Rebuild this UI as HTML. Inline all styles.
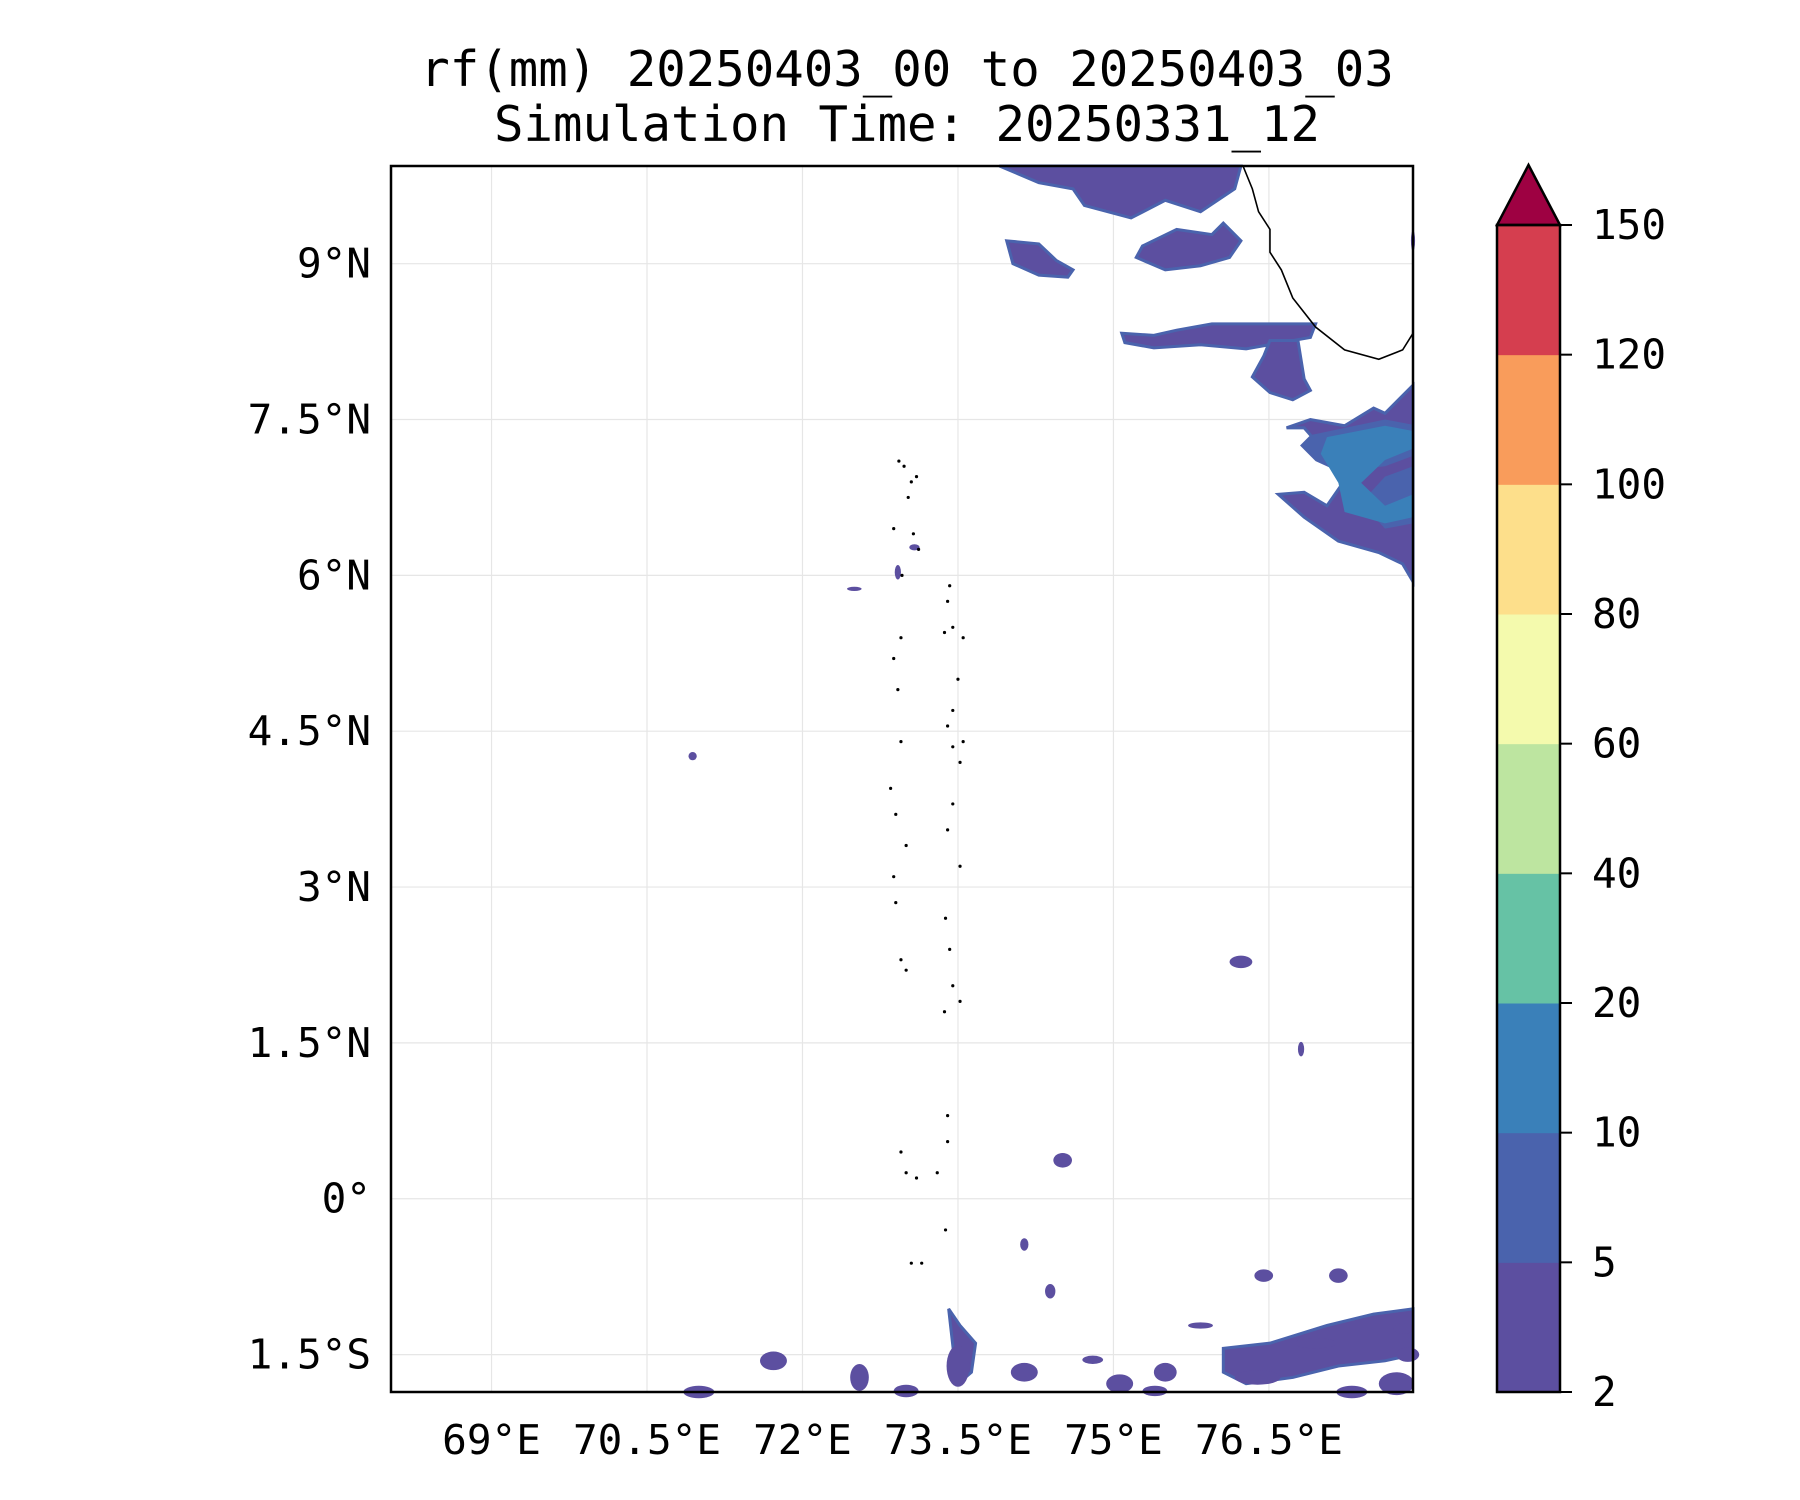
<!DOCTYPE html>
<html><head><meta charset="utf-8"><style>
html,body{margin:0;padding:0;background:#fff;}
svg{display:block;font-family:"DejaVu Sans Mono","Liberation Mono",monospace;}
</style></head><body>
<svg id="chart" width="1800" height="1500" viewBox="0 0 1800 1500" xmlns="http://www.w3.org/2000/svg">
<text x="907" y="86" font-size="49" text-anchor="middle">rf(mm) 20250403_00 to 20250403_03</text>
<text x="907" y="141" font-size="49" text-anchor="middle">Simulation Time: 20250331_12</text>
<g id="grid"></g><g id="rain"></g><g id="coast"></g><g id="axes"></g><g id="cbar"></g>
</svg>
<script>
const lonTicks=[69,70.5,72,73.5,75,76.5];
const lonLabels=["69°E","70.5°E","72°E","73.5°E","75°E","76.5°E"];
const latTicks=[9,7.5,6,4.5,3,1.5,0,-1.5];
const latLabels=["9°N","7.5°N","6°N","4.5°N","3°N","1.5°N","0°","1.5°S"];
const cbLevels=[2,5,10,20,40,60,80,100,120,150];
const cbColors=["#5c4fa0","#4a63ad","#3a80b9","#66c2a5","#bde5a0","#f4faad","#fddf8b","#f99c5b","#d53e4f"];
const cbExtendColor="#9e0142";
const polyLevels=[0,0,0,0,0,0,1,2,0,0];
const polyLons=[
[73.90,76.23,76.17,75.84,75.50,75.17,74.72,74.61,74.28],
[73.97,74.28,74.45,74.61,74.56,74.28,74.03],
[75.28,75.61,75.95,76.06,76.23,76.12,75.84,75.50,75.22],
[75.08,75.39,75.61,75.95,76.95,76.90,76.73,76.28,75.84,75.39,75.11],
[76.51,76.78,76.84,76.90,76.73,76.51,76.34,76.45],
[77.62,78.0,78.0,77.79,77.56,77.17,76.84,76.59,76.84,77.06,77.29,77.06,76.84,76.67,76.90,77.23,77.51],
[76.90,77.62,78.0,78.0,77.62,77.39,77.62,78.0,78.0,77.62,77.17,76.95,76.80],
[77.06,77.62,78.0,78.0,77.62,77.39,77.62,78.0,78.0,77.62,77.23,77.17,77.0],
[73.41,73.52,73.67,73.63,73.50,73.46],
[76.06,76.51,77.06,77.51,78.0,78.0,77.62,77.17,76.73,76.28,76.06]];
const polyLats=[
[10.0,10.0,9.72,9.50,9.61,9.44,9.56,9.72,9.78],
[9.22,9.19,9.03,8.94,8.87,8.89,9.0],
[9.17,9.33,9.28,9.39,9.22,9.06,8.98,8.94,9.06],
[8.33,8.31,8.36,8.42,8.42,8.29,8.26,8.18,8.22,8.19,8.24],
[8.26,8.26,7.89,7.78,7.69,7.76,7.91,8.11],
[7.56,7.83,5.94,6.11,6.22,6.33,6.56,6.78,6.80,6.67,7.0,7.17,7.42,7.42,7.5,7.44,7.61],
[7.35,7.50,7.45,6.50,6.45,6.70,6.95,7.05,7.15,7.05,7.0,7.10,7.25],
[7.33,7.44,7.39,7.22,7.11,6.89,6.67,6.78,6.56,6.50,6.61,6.89,7.17],
[-1.06,-1.22,-1.39,-1.67,-1.78,-1.50],
[-1.44,-1.39,-1.22,-1.11,-1.06,-1.50,-1.56,-1.61,-1.72,-1.78,-1.67]];
const blobLon=[71.72,72.55,73.50,74.14,75.06,75.50,76.39,77.73,77.84,77.17,76.45,76.23,74.51,76.81,70.94,72.50,72.92,73.08,75.84,76.95,74.39,74.14,77.95,71.0,73.0,74.8,75.4,77.3,77.8];
const blobLat=[-1.56,-1.72,-1.61,-1.67,-1.78,-1.67,-1.72,-1.78,-1.50,-0.74,-0.74,2.28,0.37,1.44,4.26,5.87,6.03,6.27,-1.22,-1.39,-0.89,-0.44,9.22,-1.88,-1.85,-1.55,-1.85,-1.90,-1.25];
const blobRx=[.13,.09,.11,.13,.13,.11,.22,.17,.11,.09,.09,.11,.09,.03,.04,.07,.03,.05,.12,.2,.05,.04,.02,.15,.12,.1,.12,.15,.1];
const blobRy=[.09,.13,.2,.09,.09,.09,.07,.11,.07,.07,.06,.06,.07,.07,.04,.02,.07,.03,.03,.05,.07,.06,.1,.06,.06,.04,.05,.06,.05];
const coastLon=[76.24,76.25,76.34,76.40,76.51,76.51,76.62,76.73,76.95,77.23,77.56,77.79,78.0];
const coastLat=[10.0,9.94,9.72,9.50,9.33,9.11,8.94,8.67,8.39,8.17,8.08,8.17,8.33];
const islLon=[72.93,72.98,73.05,73.10,73.02,72.88,73.07,73.12,72.96,73.42,73.40,73.45,73.37,73.55,73.50,73.45,72.95,72.88,72.92,73.40,73.45,73.52,73.55,72.95,72.85,72.90,73.00,73.45,73.40,73.52,72.88,72.90,73.38,73.42,72.95,73.00,73.37,73.52,73.45,73.40,72.95,73.00,73.10,73.30,73.40,73.38,73.15,73.05];
const islLat=[7.10,7.05,6.90,6.95,6.75,6.45,6.40,6.25,6.00,5.90,5.75,5.50,5.45,5.40,5.00,4.70,5.40,5.20,4.90,4.55,4.35,4.20,4.40,4.40,3.95,3.70,3.40,3.80,3.55,3.20,3.10,2.85,2.70,2.40,2.30,2.20,1.80,1.90,2.05,0.80,0.45,0.25,0.20,0.25,0.55,-0.30,-0.62,-0.62];

const NS="http://www.w3.org/2000/svg";
const X0=391,X1=1413,Y0=166,Y1=1392;
const LON0=68.03,LON1=77.89,LAT0=-1.86,LAT1=9.94;
function xS(lon){return Math.min(X1,Math.max(X0,X0+(lon-LON0)/(LON1-LON0)*(X1-X0)));}
function yS(lat){return Math.min(Y1,Math.max(Y0,Y1-(lat-LAT0)/(LAT1-LAT0)*(Y1-Y0)));}
function mk(tag,attrs,parent){const e=document.createElementNS(NS,tag);for(const k in attrs)e.setAttribute(k,attrs[k]);document.getElementById(parent).appendChild(e);return e;}

lonTicks.forEach((v,i)=>{
 const l=mk('line',{x1:xS(v),x2:xS(v),y1:Y0,y2:Y1,stroke:'#e6e6e6','stroke-width':1.2},'grid');
 
 
 const t=mk('text',{x:xS(v),y:Y1+62,'font-size':41,'text-anchor':'middle'},'axes');
 t.textContent=lonLabels[i];
 
 
});
latTicks.forEach((v,i)=>{
 const l=mk('line',{x1:X0,x2:X1,y1:yS(v),y2:yS(v),stroke:'#e6e6e6','stroke-width':1.2},'grid');
 
 
 const t=mk('text',{x:371,y:yS(v)+14,'font-size':41,'text-anchor':'end'},'axes');
 t.textContent=latLabels[i];
 
 
});
polyLons.forEach((lons,i)=>{
 const pts=lons.map((lo,j)=>xS(lo)+','+yS(polyLats[i][j])).join(' ');
 const p=mk('polygon',{points:pts,fill:cbColors[polyLevels[i]],stroke:polyLevels[i]===0?'#4a63ad':'none','stroke-width':polyLevels[i]===0?3:0},'rain');
 
 
});
blobLon.forEach((lo,i)=>{
 const rx=blobRx[i]/(LON1-LON0)*(X1-X0), ry=blobRy[i]/(LAT1-LAT0)*(Y1-Y0);
 const e=mk('ellipse',{cx:xS(lo),cy:yS(blobLat[i]),rx:rx,ry:ry,fill:cbColors[0]},'rain');
 
 
});
const cp=mk('polyline',{points:coastLon.map((lo,j)=>xS(lo)+','+yS(coastLat[j])).join(' '),fill:'none',stroke:'#000','stroke-width':1.6},'coast');


islLon.forEach((lo,i)=>{
 const c=mk('circle',{cx:xS(lo),cy:yS(islLat[i]),r:1.6,fill:'#000'},'coast');
 
 
});
const fr=mk('rect',{x:X0,y:Y0,width:X1-X0,height:Y1-Y0,fill:'none',stroke:'#000','stroke-width':2.5},'axes');


const CX0=1497,CX1=1560,CT=225,CB=1392,n=cbLevels.length-1,seg=(CB-CT)/n;
cbColors.forEach((c,i)=>{
 const r=mk('rect',{x:CX0,y:CB-(i+1)*seg,width:CX1-CX0,height:seg+0.5,fill:c},'cbar');
 
 
});
const tri=mk('polygon',{points:`${CX0},${CT} ${CX1},${CT} ${(CX0+CX1)/2},165`,fill:cbExtendColor,stroke:'#000','stroke-width':2.5},'cbar');


const cf=mk('rect',{x:CX0,y:CT,width:CX1-CX0,height:CB-CT,fill:'none',stroke:'#000','stroke-width':2.5},'cbar');


cbLevels.forEach((v,i)=>{
 const y=CB-i*seg;
 mk('line',{x1:CX1,x2:CX1+12,y1:y,y2:y,stroke:'#000','stroke-width':2},'cbar');
 const t=mk('text',{x:1592,y:y+14,'font-size':41},'cbar');
 t.textContent=v;
 
 
});
</script>
</body></html>
